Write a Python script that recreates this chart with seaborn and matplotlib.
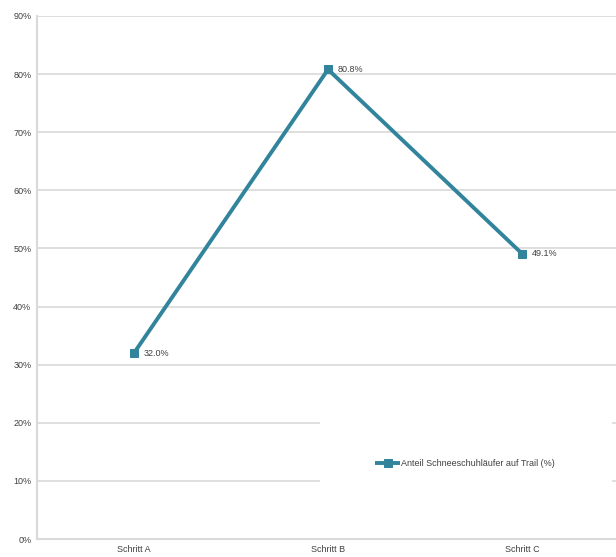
import matplotlib
matplotlib.use("Agg")
import matplotlib.pyplot as plt
from matplotlib.patches import Rectangle
import pandas as pd
import seaborn as sns

steps = ["Schritt A", "Schritt B", "Schritt C"]
share = [32.0, 80.8, 49.1]
series_name = "Anteil Schneeschuhläufer auf Trail (%)"
y_ticks = [0, 10, 20, 30, 40, 50, 60, 70, 80, 90]

df = pd.DataFrame({"step": steps, "share": share, "series": series_name})

sns.set_style("white")
plt.rcParams["font.family"] = ["Liberation Sans", "DejaVu Sans"]

line_color = "#31849B"
grid_color = "#d9d9d9"

fig = plt.figure(figsize=(6.16, 5.57), dpi=100)
ax = fig.add_axes([0.060, 0.0323, 0.945, 0.9390])

sns.lineplot(data=df, x="step", y="share", hue="series", palette=[line_color],
             marker="s", markersize=5.5, linewidth=2.8, markeredgecolor=line_color,
             sort=False, ax=ax, zorder=3)

for i, v in enumerate(share):
    ax.annotate(f"{v:.1f}%", (i, v), xytext=(7, 0), textcoords="offset points",
                va="center", ha="left", fontsize=6.5, color="#404040")

ax.set_xlim(-0.5, 2.5)
ax.set_ylim(0, 90)
ax.set_yticks(y_ticks)
ax.set_yticklabels([f"{t}%" for t in y_ticks])
ax.yaxis.grid(True, color=grid_color, linewidth=1.2, zorder=0)
ax.set_axisbelow(True)
ax.tick_params(axis="both", labelsize=6.5, colors="#404040", length=0, pad=4)
ax.set_xlabel("")
ax.set_ylabel("")

for s in ["top", "right"]:
    ax.spines[s].set_visible(False)
for s in ["left", "bottom"]:
    ax.spines[s].set_color(grid_color)
    ax.spines[s].set_linewidth(1.5)

# white legend area covering the lower gridlines
ax.add_patch(Rectangle((0.486, 0.02), 0.502, 0.25, transform=ax.transAxes,
                       facecolor="white", edgecolor="none", zorder=1))

leg = ax.legend(loc="center", bbox_to_anchor=(0.735, 0.145), frameon=False,
                fontsize=6.5, handlelength=2.8, handletextpad=0.05)
for t in leg.get_texts():
    t.set_color("#404040")
for h in leg.legend_handles:
    h.set_solid_capstyle("butt")

fig.savefig("out.png", dpi=100)
